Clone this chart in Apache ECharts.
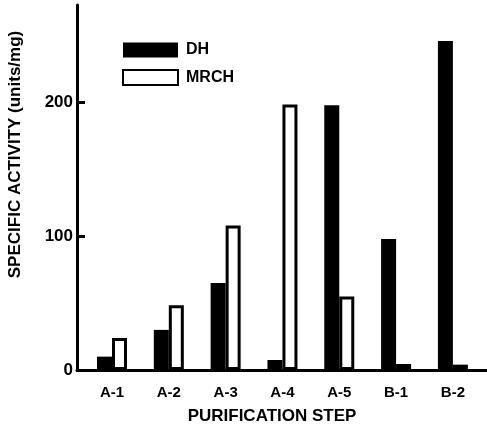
<!DOCTYPE html>
<html>
<head>
<meta charset="utf-8">
<script src="https://cdn.jsdelivr.net/npm/echarts@6/dist/echarts.min.js"></script>
<style>
  html, body { margin: 0; padding: 0; background: #fff; }
  #chart { width: 487px; height: 432px; }
</style>
</head>
<body>
<div id="chart"></div>
<script>
const categories = ['A-1', 'A-2', 'A-3', 'A-4', 'A-5', 'B-1', 'B-2'];
const dhValues = [10, 30, 65, 7.5, 198, 98, 246];
const mrchValues = [24, 48.5, 108, 198.5, 55, 4.5, 4];
const yTicks = [0, 100, 200];

const FONT = '"Liberation Sans", Arial, sans-serif';

const chart = echarts.init(document.getElementById('chart'));

const toPairs = (vals) => vals.map((v, i) => [i, v]);
const catIndex = categories.map((c, i) => i);

const option = {
  animation: false,
  backgroundColor: '#fff',
  textStyle: { fontFamily: FONT, color: '#000' },
  grid: { left: 77, right: 0, top: 5, bottom: 62, outerBoundsMode: 'none', containLabel: false },
  legend: {
    orient: 'vertical',
    left: 117,
    top: 37,
    itemWidth: 55,
    itemHeight: 15,
    itemGap: 11,
    icon: 'rect',
    textStyle: { fontFamily: FONT, fontSize: 16, fontWeight: 'bold', color: '#000', padding: [0, 0, 0, 3] },
    data: ['DH', 'MRCH']
  },
  xAxis: {
    type: 'value',
    min: -0.616,
    max: 6.6,
    name: 'PURIFICATION STEP',
    nameLocation: 'middle',
    nameGap: 38,
    nameTextStyle: { fontFamily: FONT, fontSize: 17, fontWeight: 'bold', color: '#000', padding: [0, 20, 0, 0] },
    axisLine: { show: true, onZero: false, lineStyle: { color: '#000', width: 3 } },
    axisTick: { show: false },
    splitLine: { show: false },
    axisLabel: {
      customValues: catIndex,
      formatter: (v) => categories[Math.round(v)] || '',
      fontFamily: FONT,
      fontSize: 15,
      fontWeight: 'bold',
      color: '#000',
      margin: 15
    }
  },
  yAxis: {
    type: 'value',
    min: 0,
    max: 273,
    name: 'SPECIFIC ACTIVITY (units/mg)',
    nameLocation: 'middle',
    nameRotate: 90,
    nameGap: 53,
    nameTextStyle: { fontFamily: FONT, fontSize: 17, fontWeight: 'bold', color: '#000', padding: [0, 0, 0, 66] },
    axisLine: { show: true, onZero: false, lineStyle: { color: '#000', width: 3 } },
    axisTick: {
      show: true,
      inside: true,
      length: 8,
      customValues: yTicks.filter(v => v > 0),
      lineStyle: { color: '#000', width: 3 }
    },
    splitLine: { show: false },
    axisLabel: {
      customValues: yTicks,
      fontFamily: FONT,
      fontSize: 17,
      fontWeight: 'bold',
      color: '#000',
      margin: 4
    }
  },
  series: [
    {
      name: 'DH',
      type: 'bar',
      barWidth: 15,
      barGap: '0%',
      itemStyle: { color: '#000' },
      data: toPairs(dhValues)
    },
    {
      name: 'MRCH',
      type: 'bar',
      barWidth: 15,
      barGap: '0%',
      itemStyle: { color: '#fff', borderColor: '#000', borderWidth: 3 },
      data: toPairs(mrchValues)
    }
  ]
};

chart.setOption(option);
</script>
</body>
</html>
